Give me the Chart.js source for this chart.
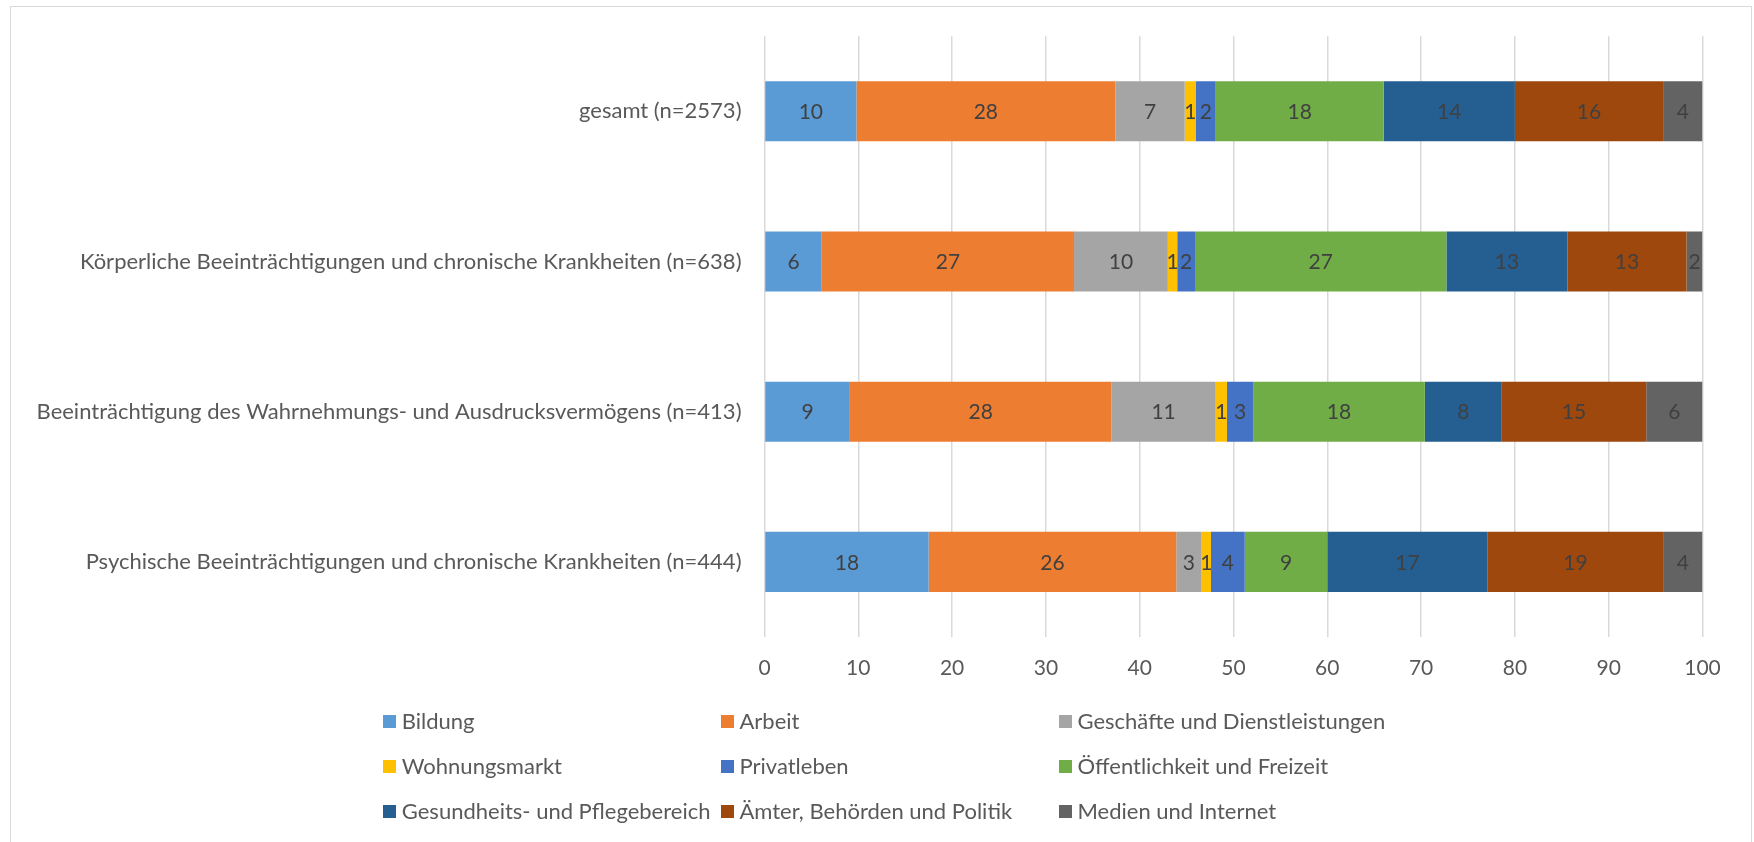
<!DOCTYPE html>
<html lang="de">
<head>
<meta charset="utf-8">
<title>Diskriminierungserfahrungen nach Lebensbereich</title>
<script src="https://cdn.jsdelivr.net/npm/chart.js"></script>
<style>
  body { margin: 0; background: #fff; font-family: Lato, "Open Sans", sans-serif; }
  #wrap { position: relative; width: 1754px; height: 842px; overflow: hidden; }
  #frame { position: absolute; left: 10px; top: 6px; width: 1740px; height: 900px; border: 1.5px solid #d9d9d9; }
  #chart { position: absolute; left: 0; top: 0; }
  .lg { position: absolute; font-size: 22px; color: #595959; white-space: nowrap; line-height: 26px; }
  .lg i { position: absolute; left: -19px; top: 6.5px; width: 13px; height: 13px; }
</style>
</head>
<body>
<div id="wrap">
  <div id="frame"></div>
  <canvas id="chart" width="1754" height="842"></canvas>
  <div id="legend"></div>
</div>
<script>
// Kategorien (y-Achse, oben nach unten)
const categories = [
  'gesamt (n=2573)',
  'Körperliche Beeinträchtigungen und chronische Krankheiten (n=638)',
  'Beeinträchtigung des Wahrnehmungs- und Ausdrucksvermögens (n=413)',
  'Psychische Beeinträchtigungen und chronische Krankheiten (n=444)'
];

// Anteile in Prozent je Lebensbereich
const bildung         = [9.8, 6.1, 9.1, 17.5];
const arbeit          = [27.6, 26.9, 27.9, 26.4];
const geschaefte      = [7.4, 10.0, 11.1, 2.7];
const wohnungsmarkt   = [1.2, 1.0, 1.2, 1.0];
const privatleben     = [2.1, 1.9, 2.8, 3.6];
const oeffentlichkeit = [17.9, 26.8, 18.3, 8.8];
const gesundheit      = [14.0, 12.9, 8.2, 17.1];
const aemter          = [15.8, 12.7, 15.4, 18.7];
const medien          = [4.2, 1.7, 6.0, 4.2];

const xTicks = [0, 10, 20, 30, 40, 50, 60, 70, 80, 90, 100];

const seriesNames = ['Bildung', 'Arbeit', 'Geschäfte und Dienstleistungen', 'Wohnungsmarkt', 'Privatleben',
  'Öffentlichkeit und Freizeit', 'Gesundheits- und Pflegebereich', 'Ämter, Behörden und Politik', 'Medien und Internet'];
const seriesData = [bildung, arbeit, geschaefte, wohnungsmarkt, privatleben, oeffentlichkeit, gesundheit, aemter, medien];
const seriesColors = ['#5B9BD5', '#ED7D31', '#A5A5A5', '#FFC000', '#4472C4', '#70AD47', '#255E91', '#9E480E', '#636363'];

const FONT = 'Lato';
const PLOT_LEFT = 764.5;

// Zahlen in die Balken schreiben
const barLabels = {
  id: 'barLabels',
  afterDatasetsDraw(chart) {
    const ctx = chart.ctx;
    ctx.save();
    ctx.font = '21px ' + FONT;
    ctx.fillStyle = '#404040';
    ctx.textAlign = 'center';
    ctx.textBaseline = 'middle';
    chart.data.datasets.forEach((ds, i) => {
      chart.getDatasetMeta(i).data.forEach((el, j) => {
        const v = ds.data[j];
        ctx.fillText(String(Math.round(v)), (el.x + el.base) / 2, el.y + 1);
      });
    });
    ctx.restore();
  }
};

new Chart(document.getElementById('chart'), {
  type: 'bar',
  data: {
    labels: categories,
    datasets: seriesNames.map((name, i) => ({
      label: name,
      data: seriesData[i],
      backgroundColor: seriesColors[i],
      borderWidth: 0,
      barPercentage: 0.5,
      categoryPercentage: 0.8
    }))
  },
  options: {
    indexAxis: 'y',
    responsive: false,
    animation: false,
    layout: { padding: { top: 36, right: 51.5, bottom: 155, left: 0 } },
    plugins: { legend: { display: false }, tooltip: { enabled: false } },
    scales: {
      x: {
        stacked: true,
        min: 0,
        max: 100,
        afterBuildTicks: s => { s.ticks = xTicks.map(v => ({ value: v })); },
        afterFit: s => { s.height = 50; },
        grid: { color: '#d9d9d9', lineWidth: 1.5, drawTicks: false },
        border: { display: false },
        ticks: { padding: 19, color: '#595959', font: { family: FONT, size: 21 } }
      },
      y: {
        stacked: true,
        afterFit: s => { s.width = PLOT_LEFT; },
        grid: { display: false, drawTicks: false },
        border: { display: false },
        ticks: { padding: 23, color: '#595959', font: { family: FONT, size: 22 } }
      }
    }
  },
  plugins: [barLabels]
});

// Legende in drei Spalten wie im Original
const legendCols = [401.8, 739.5, 1077.5];
const legendRows = [708, 753, 798];
const legendEl = document.getElementById('legend');
seriesNames.forEach((name, i) => {
  const d = document.createElement('div');
  d.className = 'lg';
  d.style.left = legendCols[i % 3] + 'px';
  d.style.top = legendRows[Math.floor(i / 3)] + 'px';
  d.innerHTML = `<i style="background:${seriesColors[i]}"></i>${name}`;
  legendEl.appendChild(d);
});
</script>
</body>
</html>
